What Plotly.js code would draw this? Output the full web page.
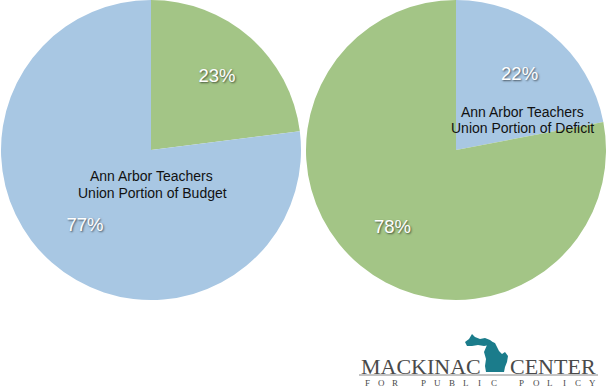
<!DOCTYPE html>
<html>
<head>
<meta charset="utf-8">
<script src="https://cdn.plot.ly/plotly-3.0.1.min.js"></script>
<style>html,body{margin:0;padding:0;background:#fff;}#chart{width:610px;height:390px;}</style>
</head>
<body>
<div id="chart"></div>
<script>
// ---- data ----
const sliceLabels = ['Ann Arbor Teachers Union', 'Other'];
const budgetValues = [23, 77];
const deficitValues = [22, 78];
const budgetTitle = ['Ann Arbor Teachers', 'Union Portion of Budget'];
const deficitTitle = ['Ann Arbor Teachers', 'Union Portion of Deficit'];
const logoWords = ['MACKINAC', 'CENTER'];
const logoTagline = ['FOR', 'PUBLIC', 'POLICY'];

// ---- style ----
const W = 610, H = 390;
const BLUE = '#a8c7e3';
const GREEN = '#a3c586';
const LOGO_GRAY = '#4a4a4a';
const TEAL = '#1b7c8b';
const CLEAR = 'rgba(0,0,0,0)';
const px = x => x / W;
const py = y => 1 - y / H;

const pctFont = {family: 'Liberation Sans, Arial, sans-serif', size: 18.5, color: '#ffffff',
  shadow: '1px 1px 2px rgba(0,0,0,0.6)'};

const pieCommon = {
  type: 'pie', sort: false, direction: 'clockwise', rotation: 0,
  showlegend: false, hoverinfo: 'label+percent'
};
const leftDomain = {x: [px(1), px(301)], y: [py(300), py(0)]};
const rightDomain = {x: [px(306), px(606)], y: [py(300), py(0)]};

function basePie(values, colors, domain) {
  return Object.assign({}, pieCommon, {
    labels: sliceLabels, values: values, textinfo: 'none',
    marker: {colors: colors, line: {width: 0}}, domain: domain
  });
}
function labelPie(values, domain) {
  return Object.assign({}, pieCommon, {
    labels: sliceLabels, values: values, hole: 0.33,
    textinfo: 'percent', textposition: 'inside', insidetextorientation: 'horizontal',
    textfont: pctFont, marker: {colors: [CLEAR, CLEAR], line: {width: 0}}, domain: domain
  });
}

const traces = [
  basePie(budgetValues, [GREEN, BLUE], leftDomain),
  basePie(deficitValues, [BLUE, GREEN], rightDomain),
  labelPie(budgetValues, leftDomain),
  labelPie(deficitValues, rightDomain)
];

function pathPx(pts) {
  return 'M ' + pts.map(p => px(p[0]) + ',' + py(p[1])).join(' L ') + ' Z';
}
const upPen = [[465,342],[469,339],[472,334],[475,337],[480,339],[485,338],[490,340],[494,343],[490,345],[484,346],[478,345],[472,346],[467,346]];
const lowPen = [[487,345],[492,342],[495,343],[497,347],[499,351],[502,354],[505,352],[508,356],[507,362],[505,367],[504,372],[486,372],[485,366],[486,359],[484,352]];

const annFont = {family: 'Liberation Sans, Arial, sans-serif', size: 14, color: '#111'};
const serif = 'Liberation Serif, Times New Roman, serif';
const annotations = [];
function addText(text, x, y, font, xanchor) {
  annotations.push({text: text, x: px(x), y: py(y), xref: 'paper', yref: 'paper',
    xanchor: xanchor || 'center', yanchor: 'middle', showarrow: false, font: font});
}
addText(budgetTitle[0], 151, 176.5, annFont);
addText(budgetTitle[1], 152, 192.5, annFont);
addText(deficitTitle[0], 522, 112, annFont);
addText(deficitTitle[1], 522, 128, annFont);
addText(logoWords[0], 359, 366, {family: serif, size: 22, color: LOGO_GRAY}, 'left');
addText(logoWords[1], 508, 366, {family: serif, size: 22, color: LOGO_GRAY}, 'left');
let k = 0;
logoTagline.forEach((word, wi) => {
  word.split('').forEach(ch => {
    addText(ch, 367 + 14.1 * k + 14 * wi, 383, {family: serif, size: 9, color: LOGO_GRAY});
    k++;
  });
});

const layout = {
  width: W, height: H,
  margin: {l: 0, r: 0, t: 0, b: 0},
  paper_bgcolor: '#ffffff',
  showlegend: false,
  annotations: annotations,
  shapes: [
    {type: 'path', xref: 'paper', yref: 'paper', path: pathPx(upPen), fillcolor: TEAL, line: {width: 0}},
    {type: 'path', xref: 'paper', yref: 'paper', path: pathPx(lowPen), fillcolor: TEAL, line: {width: 0}},
    {type: 'line', xref: 'paper', yref: 'paper', x0: px(359), x1: px(598), y0: py(375), y1: py(375), line: {color: '#888', width: 1}}
  ]
};

Plotly.newPlot('chart', traces, layout, {staticPlot: true, displayModeBar: false});
</script>
</body>
</html>
